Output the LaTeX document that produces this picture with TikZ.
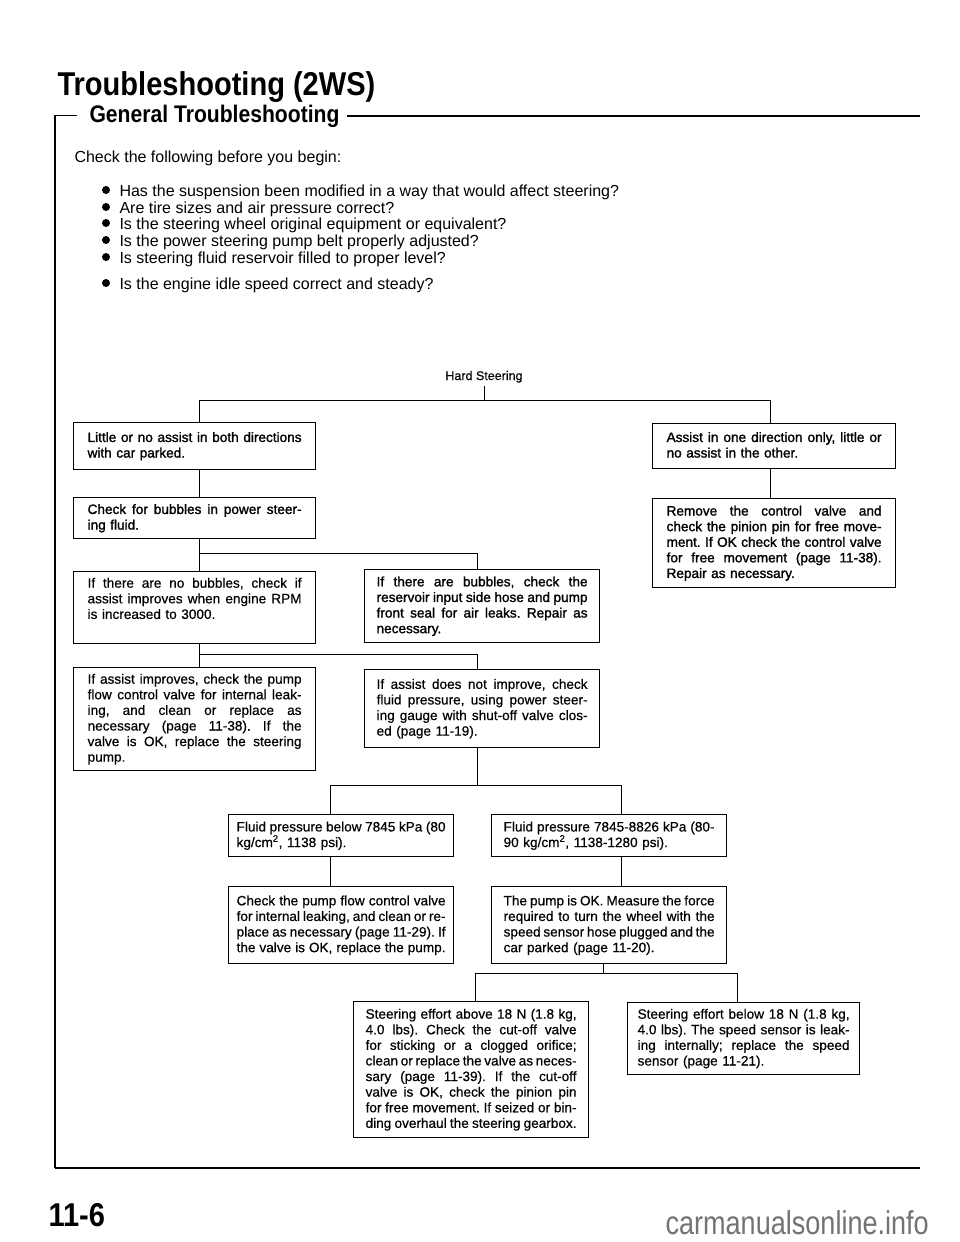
\documentclass[tikz,border=0pt]{standalone}
\usepackage{fontspec}
\setmainfont{Liberation Sans}
\newfontfamily\hdfont[FakeStretch=0.88]{Liberation Sans}
\newfontfamily\wmfont[FakeStretch=0.82]{Liberation Sans}
\newfontfamily\bxfont[FakeBold=0.5]{Liberation Sans}
\newfontfamily\bxbfont[FakeBold=1.4]{Liberation Sans}
\setlength{\parindent}{0pt}
\setlength{\parskip}{0pt}
\newcommand{\jl}[1]{\leavevmode\hbox to \hsize{\spaceskip=0.278em plus 2em minus 0.1em\relax #1}\\}
\newcommand{\jf}[1]{\leavevmode\hbox to \hsize{\spaceskip=0.278em plus 2em minus 0.1em\relax #1}}
\newcommand{\ts}{\rule{0pt}{10.8pt}}
\newcommand{\bs}{\rule[-3.5pt]{0pt}{3.5pt}}
\begin{document}
\begin{tikzpicture}[x=1pt,y=-1pt,
  box/.style={draw, line width=1.2pt, anchor=north west, inner ysep=5.3pt,
    font=\bxfont\fontsize{13.6pt}{15.6pt}\selectfont\frenchspacing},
  boxb/.style={box, font=\bxbfont\fontsize{13.6pt}{15.6pt}\selectfont\frenchspacing},
  conn/.style={line width=1pt},
  chk/.style={anchor=base west, font=\fontsize{16pt}{18pt}\selectfont},
  dot/.style={circle, fill, inner sep=0pt, minimum size=8pt}]
\useasboundingbox (0,0) rectangle (960,1242);
\fill[white] (0,0) rectangle (960,1242);

% headings
\node[anchor=base west, font=\hdfont\bfseries\fontsize{33pt}{36pt}\selectfont] (title) at (54,95) {Troubleshooting (2WS)};
\node[anchor=base west, font=\hdfont\bfseries\fontsize{24pt}{27pt}\selectfont] (gen) at (86,122) {General Troubleshooting};
\coordinate (bk) at (55,0);
\coordinate (rend) at (920,0);
\coordinate (botl) at (55,1168);
\coordinate (botr) at (920,1168);
\draw[line width=2pt] ([xshift=4pt]gen.east) -- (gen.east -| rend);
\draw[line width=1.3pt] ([xshift=-9pt]gen.west) -- (gen.west -| bk) -- (botl);
\draw[line width=2.5pt] (botl) -- (botr);
\node[anchor=base west, font=\hdfont\bfseries\fontsize{33pt}{36pt}\selectfont] (pg) at (45,1226) {11-6};
\node[anchor=base east, inner sep=0pt, text=black!55, font=\wmfont\fontsize{33pt}{36pt}\selectfont] (wm) at (929,1234) {carmanualsonline.info};

% checklist
\node[chk] (check) at (71,162) {Check the following before you begin:};
\node[dot] (d1) at (106,190) {};
\node[dot] (d2) at (106,207) {};
\node[dot] (d3) at (106,223) {};
\node[dot] (d4) at (106,240) {};
\node[dot] (d5) at (106,257) {};
\node[dot] (d6) at (106,283) {};
\node[chk] (t1) at (116,196) {Has the suspension been modified in a way that would affect steering?};
\node[chk] (t2) at (116,213) {Are tire sizes and air pressure correct?};
\node[chk] (t3) at (116,229) {Is the steering wheel original equipment or equivalent?};
\node[chk] (t4) at (116,246) {Is the power steering pump belt properly adjusted?};
\node[chk] (t5) at (116,263) {Is steering fluid reservoir filled to proper level?};
\node[chk] (t6) at (116,289) {Is the engine idle speed correct and steady?};

% flowchart
\node[anchor=base, font=\bxfont\fontsize{12.5pt}{14pt}\selectfont] (hs) at (484,380) {Hard Steering};

\node[boxb, text width=214pt, inner xsep=14pt, minimum height=47pt] (b1) at (73,422)
 {\ts\jl{Little or no assist in both directions}with car parked.\bs};
\node[boxb, text width=214pt, inner xsep=14pt, minimum height=41pt] (b2) at (73,497)
 {\ts\jl{Check for bubbles in power steer-}ing fluid.\bs};
\node[box, text width=214pt, inner xsep=14pt] (b3) at (73,571)
 {\ts\jl{If there are no bubbles, check if}\jl{assist improves when engine RPM}is increased to 3000.\\\mbox{}\bs};
\node[box, text width=214pt, inner xsep=14pt] (b4) at (73,667)
 {\ts\jl{If assist improves, check the pump}\jl{flow control valve for internal leak-}\jl{ing, and clean or replace as}\jl{necessary (page 11-38). If the}\jl{valve is OK, replace the steering}pump.\bs};

\node[boxb, text width=211pt, inner xsep=12pt, minimum height=73pt] (b3r) at (364,569)
 {\ts\jl{If there are bubbles, check the}\jl{reservoir input side hose and pump}\jl{front seal for air leaks. Repair as}necessary.\bs};
\node[box, text width=211pt, inner xsep=12pt, minimum height=78pt] (b4r) at (364,669)
 {\ts\jl{If assist does not improve, check}\jl{fluid pressure, using power steer-}\jl{ing gauge with shut-off valve clos-}ed (page 11-19).\bs};

\node[boxb, text width=215pt, inner xsep=14pt, minimum height=45pt] (r1) at (652,423)
 {\ts\jl{Assist in one direction only, little or}no assist in the other.\bs};
\node[boxb, text width=215pt, inner xsep=14pt, minimum height=89pt] (r2) at (652,498)
 {\ts\jl{Remove the control valve and}\jl{check the pinion pin for free move-}\jl{ment. If OK check the control valve}\jl{for free movement (page 11-38).}Repair as necessary.\bs};

\node[box, text width=209pt, inner xsep=8pt, minimum height=42pt] (f1) at (228,814)
 {\ts\jl{Fluid pressure below 7845 kPa (80}kg/cm\textsuperscript{2}, 1138 psi).\bs};
\node[box, text width=211pt, inner xsep=12pt, minimum height=42pt] (f2) at (491,814)
 {\ts\jl{Fluid pressure 7845-8826 kPa (80-}90 kg/cm\textsuperscript{2}, 1138-1280 psi).\bs};
\node[box, text width=209pt, inner xsep=8pt, minimum height=77pt] (c1) at (228,886)
 {\ts\jl{Check the pump flow control valve}\jl{for internal leaking, and clean or re-}\jl{place as necessary (page 11-29). If}\jf{the valve is OK, replace the pump.}\bs};
\node[box, text width=211pt, inner xsep=12pt, minimum height=77pt] (c2) at (491,886)
 {\ts\jl{The pump is OK. Measure the force}\jl{required to turn the wheel with the}\jl{speed sensor hose plugged and the}car parked (page 11-20).\bs};

\node[box, text width=211pt, inner xsep=12pt, minimum height=136pt] (s1) at (353,1001)
 {\ts\jl{Steering effort above 18 N (1.8 kg,}\jl{4.0 lbs). Check the cut-off valve}\jl{for sticking or a clogged orifice;}\jl{clean or replace the valve as neces-}\jl{sary (page 11-39). If the cut-off}\jl{valve is OK, check the pinion pin}\jl{for free movement. If seized or bin-}\jf{ding overhaul the steering gearbox.}\bs};
\node[box, text width=212pt, inner xsep=10pt] (s2) at (627,1002)
 {\ts\jl{Steering effort below 18 N (1.8 kg,}\jl{4.0 lbs). The speed sensor is leak-}\jl{ing internally; replace the speed}sensor (page 11-21).\bs};

% junctions
\coordinate (jt) at (484,400);
\coordinate (jl) at (199,400);
\coordinate (jr) at (770,400);
\coordinate (ja) at (199,553);
\coordinate (jb) at (199,654);
\coordinate (jm) at (477,0);
\coordinate (jf1) at (330,785);
\coordinate (jf2) at (621,785);
\coordinate (js) at (603,0);
\coordinate (jsl) at (475,973);
\coordinate (jsr) at (737,973);

\draw[conn] (hs.south) -- (jt);
\draw[conn] (b1.north -| jl) -- (jl) -- (jr) -- (r1.north -| jr);
\draw[conn] (r1.south -| jr) -- (r2.north -| jr);
\draw[conn] (b1.south -| jl) -- (b2.north -| jl);
\draw[conn] (b2.south -| jl) -- (b3.north -| jl);
\draw[conn] (ja) -| (b3r.north -| jm);
\draw[conn] (b3.south -| jl) -- (b4.north -| jl);
\draw[conn] (jb) -| (b4r.north -| jm);
\draw[conn] (b4r.south -| jm) -- (jm |- jf1);
\draw[conn] (f1.north -| jf1) -- (jf1) -- (jf2) -- (f2.north -| jf2);
\draw[conn] (f1.south -| jf1) -- (c1.north -| jf1);
\draw[conn] (f2.south -| jf2) -- (c2.north -| jf2);
\draw[conn] (c2.south -| js) -- (js |- jsl);
\draw[conn] (s1.north -| jsl) -- (jsl) -- (jsr) -- (s2.north -| jsr);
\end{tikzpicture}
\end{document}
